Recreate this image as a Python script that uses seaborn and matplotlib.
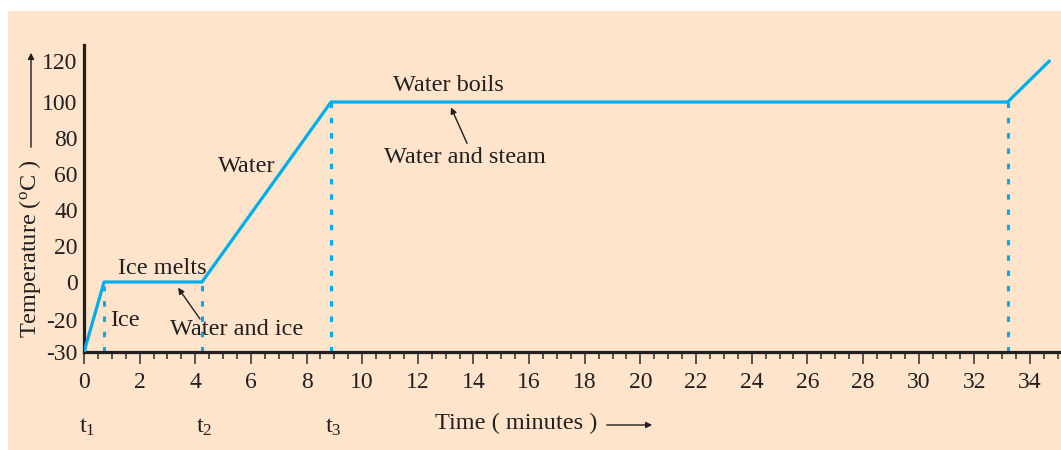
import numpy as np
import pandas as pd
import matplotlib
matplotlib.use("Agg")
import matplotlib.pyplot as plt
import matplotlib.patches as mpatches
from matplotlib.ticker import MultipleLocator, FixedLocator, FixedFormatter
import seaborn as sns

# Heating curve of ice -> water -> steam
time_min = [0, 0.72, 4.24, 8.88, 33.2, 34.7]
temp_c = [-30, 0, 0, 100, 100, 120]

# Phase-change boundaries (dotted guides) and the temperature they rise to
phase_times = [0.72, 4.24, 8.88, 33.2]
phase_tops = [-2, 0, 100, 100]

# Axis ticks
x_ticks = list(range(0, 35, 2))
y_ticks = [-30, -20, 0, 20, 40, 60, 80, 100, 120]
y_tick_labels = ["-30", "-20", "0", "20", "40", "60", "80", "100", "120"]

# Instants marked under the time axis
t_marks = [0, 4.24, 8.88]
t_labels = [r"$\mathrm{t}_{\mathrm{1}}$", r"$\mathrm{t}_{\mathrm{2}}$", r"$\mathrm{t}_{\mathrm{3}}$"]

BLUE = "#00AEEF"
INK = "#231F20"
PEACH = "#FDE4CB"

sns.set_theme(style="ticks")
plt.rcParams["font.family"] = ["Liberation Serif", "DejaVu Serif"]
plt.rcParams["mathtext.fontset"] = "custom"
plt.rcParams["mathtext.rm"] = "Liberation Serif"
plt.rcParams["mathtext.it"] = "Liberation Serif:italic"
plt.rcParams["axes.unicode_minus"] = False

W, H = 1061, 450
fig = plt.figure(figsize=(W / 100, H / 100), dpi=100, facecolor="white")

# peach panel behind the diagram
fig.patches.append(mpatches.Rectangle((8 / W, 0), 1 - 8 / W, 1 - 11 / H,
                                      transform=fig.transFigure, facecolor=PEACH,
                                      edgecolor="none", zorder=-10))

ax = fig.add_axes([84 / W, 98 / H, 1 - 84 / W, 307 / H])
ax.set_facecolor("none")
ax.set_zorder(5)

# schematic temperature axis: the sub-zero part is stretched
_val = [-60, -30, -20, 0, 100, 120, 200]
_pos = [-90, 0, 32, 70, 250, 291, 435]


def _fwd(v):
    return np.interp(v, _val, _pos)


def _inv(p):
    return np.interp(p, _pos, _val)


ax.set_yscale("function", functions=(_fwd, _inv))

df = pd.DataFrame({"time": time_min, "temp": temp_c})
sns.lineplot(data=df, x="time", y="temp", ax=ax, color=BLUE, lw=2.3,
             sort=False, zorder=3)

ax.vlines(phase_times, ymin=-30, ymax=phase_tops, colors=BLUE,
          linestyles=[(0, (1.8, 3.2))], lw=2.2, zorder=2)

ax.set_xlim(0, (W - 84) / 27.82)
ax.set_ylim(-30, _inv(307))

sns.despine(ax=ax)
for side in ("left", "bottom"):
    ax.spines[side].set_linewidth(2.3)
    ax.spines[side].set_color(INK)

ax.xaxis.set_major_locator(FixedLocator(x_ticks))
ax.xaxis.set_minor_locator(MultipleLocator(0.5))
ax.tick_params(axis="x", which="major", length=8.8, width=1.2, color="#3a3a3a",
               labelsize=17, labelcolor=INK, pad=5.5)
ax.tick_params(axis="x", which="minor", length=5.2, width=1.2, color="#3a3a3a")

ax.yaxis.set_major_locator(FixedLocator(y_ticks))
ax.yaxis.set_major_formatter(FixedFormatter(y_tick_labels))
ax.yaxis.set_minor_locator(FixedLocator([]))
ax.tick_params(axis="y", which="major", length=0, labelsize=17, labelcolor=INK, pad=4.5)

ax.set_xlabel("")
ax.set_ylabel("")

txt = dict(fontsize=17.5, color=INK, ha="center", va="center")
ax.text(2.8, 7.5, "Ice melts", **txt)
ax.text(1.47, -20, "Ice", **txt)
ax.text(5.5, -23, "Water and ice", **txt)
ax.text(5.85, 64, "Water", **txt)
ax.text(13.1, 108, "Water boils", **txt)
ax.text(13.7, 69, "Water and steam", **txt)

arrow = dict(arrowstyle="-|>", lw=1.0, color=INK, mutation_scale=9, shrinkA=0, shrinkB=0)
ax.annotate("", xy=(3.38, -3), xytext=(4.17, -19.5), arrowprops=arrow)
ax.annotate("", xy=(13.19, 97), xytext=(13.77, 77), arrowprops=arrow)

# instants t1, t2, t3 below the time axis
for tx, tl in zip(t_marks, t_labels):
    ax.annotate(tl, xy=(tx, 0), xycoords=("data", "figure fraction"),
                xytext=(tx + 0.1, 1 - 427 / H), textcoords=("data", "figure fraction"),
                fontsize=17.5, color=INK, ha="center", va="center", annotation_clip=False)

# axis titles with their direction arrows
fig.text(30 / W, 1 - 249 / H, r"Temperature ($^{\mathrm{o}}$C )", rotation=90,
         fontsize=17.5, color=INK, ha="center", va="center")
fig.patches.append(mpatches.FancyArrowPatch((31 / W, 1 - 150 / H), (31 / W, 1 - 50 / H),
                                            transform=fig.transFigure, arrowstyle="-|>",
                                            mutation_scale=9, lw=1.0, color=INK))
fig.text(516 / W, 1 - 423 / H, "Time ( minutes )", fontsize=17.5, color=INK,
         ha="center", va="center")
fig.patches.append(mpatches.FancyArrowPatch((604 / W, 1 - 425 / H), (655 / W, 1 - 425 / H),
                                            transform=fig.transFigure, arrowstyle="-|>",
                                            mutation_scale=9, lw=1.0, color=INK))

fig.savefig("out.png", dpi=100, facecolor="white")
